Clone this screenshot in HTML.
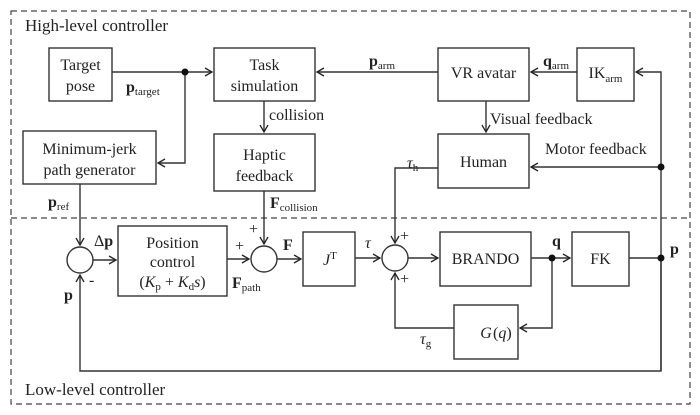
<!DOCTYPE html>
<html><head><meta charset="utf-8"><style>
html,body{margin:0;padding:0;background:#fff}
svg{display:block}
text{font-family:"Liberation Serif",serif;font-size:16px;fill:#222}
.b{font-weight:bold}
.s{font-size:11px}
</style></head><body>
<svg width="700" height="415" viewBox="0 0 700 415" xmlns="http://www.w3.org/2000/svg">
<defs>
<marker id="a" markerWidth="10" markerHeight="10" refX="8" refY="5" orient="auto" markerUnits="userSpaceOnUse">
<path d="M1,1 L8,5 L1,9" fill="none" stroke="#222" stroke-width="1.3"/>
</marker>
</defs>
<g fill="none" stroke="#444" stroke-width="1.2" stroke-dasharray="6,4">
<rect x="11" y="11" width="679" height="393"/>
<line x1="11" y1="218" x2="690" y2="218"/>
</g>
<g fill="#fff" stroke="#333" stroke-width="1.4">
<rect x="49" y="48" width="63" height="53"/>
<rect x="214" y="48" width="101" height="53"/>
<rect x="23" y="131" width="133" height="53"/>
<rect x="214" y="134" width="101" height="57"/>
<rect x="438" y="48" width="91" height="53"/>
<rect x="577" y="48" width="57" height="53"/>
<rect x="438" y="134" width="91" height="54"/>
<rect x="118" y="226" width="109" height="70"/>
<rect x="303" y="232" width="52" height="54"/>
<rect x="440" y="232" width="91" height="54"/>
<rect x="572" y="232" width="57" height="54"/>
<rect x="454" y="305" width="64" height="54"/>
<circle cx="80" cy="260" r="13"/>
<circle cx="264" cy="259" r="13"/>
<circle cx="395" cy="258" r="13"/>
</g>
<g fill="none" stroke="#333" stroke-width="1.4">
<path d="M112,72 H212" marker-end="url(#a)"/>
<path d="M185,72 V163 H158" marker-end="url(#a)"/>
<path d="M264,101 V132" marker-end="url(#a)"/>
<path d="M438,72 H317" marker-end="url(#a)"/>
<path d="M577,72 H531" marker-end="url(#a)"/>
<path d="M661,371 V72 H636" marker-end="url(#a)"/>
<path d="M486,101 V132" marker-end="url(#a)"/>
<path d="M661,167 H531" marker-end="url(#a)"/>
<path d="M438,168 H395 V243" marker-end="url(#a)"/>
<path d="M80,184 V245" marker-end="url(#a)"/>
<path d="M93,260 H116" marker-end="url(#a)"/>
<path d="M227,259 H249" marker-end="url(#a)"/>
<path d="M264,191 V244" marker-end="url(#a)"/>
<path d="M277,259 H301" marker-end="url(#a)"/>
<path d="M355,258 H380" marker-end="url(#a)"/>
<path d="M408,258 H438" marker-end="url(#a)"/>
<path d="M531,258 H570" marker-end="url(#a)"/>
<path d="M629,258 H661"/>
<path d="M552,258 V328 H520" marker-end="url(#a)"/>
<path d="M454,328 H395 V273" marker-end="url(#a)"/>
<path d="M661,258 V371 H80 V275" marker-end="url(#a)"/>
</g>
<g fill="#111">
<circle cx="185" cy="72" r="3.5"/>
<circle cx="661" cy="167" r="3.5"/>
<circle cx="552" cy="258" r="3.5"/>
<circle cx="661" cy="258" r="3.5"/>
</g>
<text x="25" y="31" style="font-size:17px">High-level controller</text>
<text x="25" y="395" style="font-size:17px">Low-level controller</text>
<text x="80.5" y="70" text-anchor="middle">Target</text>
<text x="80.5" y="91" text-anchor="middle">pose</text>
<text x="264.5" y="70" text-anchor="middle">Task</text>
<text x="264.5" y="91" text-anchor="middle">simulation</text>
<text x="89.5" y="154" text-anchor="middle">Minimum-jerk</text>
<text x="89.5" y="175" text-anchor="middle">path generator</text>
<text x="264.5" y="160" text-anchor="middle">Haptic</text>
<text x="264.5" y="181" text-anchor="middle">feedback</text>
<text x="483.5" y="78" text-anchor="middle">VR avatar</text>
<text x="605.5" y="78" text-anchor="middle">IK<tspan class="s" dy="4">arm</tspan></text>
<text x="483.5" y="167" text-anchor="middle">Human</text>
<text x="172.5" y="248" text-anchor="middle">Position</text>
<text x="172.5" y="267" text-anchor="middle">control</text>
<text x="172.5" y="287" text-anchor="middle">(<tspan font-style="italic">K</tspan><tspan class="s" dy="3">p</tspan><tspan dy="-3"> + </tspan><tspan font-style="italic">K</tspan><tspan class="s" dy="3">d</tspan><tspan dy="-3" font-style="italic">s</tspan>)</text>
<text x="323" y="265" font-style="italic">J<tspan class="s" font-style="normal" dy="-6">T</tspan></text>
<text x="485.5" y="264" text-anchor="middle">BRANDO</text>
<text x="600.5" y="264" text-anchor="middle">FK</text>
<text x="486" y="338" text-anchor="middle" font-style="italic">G</text><text x="493" y="338">(<tspan font-style="italic">q</tspan>)</text>
<text x="126" y="92"><tspan class="b">p</tspan><tspan class="s" dy="3">target</tspan></text>
<text x="269" y="120">collision</text>
<text x="369" y="66"><tspan class="b">p</tspan><tspan class="s" dy="3">arm</tspan></text>
<text x="543" y="66"><tspan class="b">q</tspan><tspan class="s" dy="3">arm</tspan></text>
<text x="490" y="124">Visual feedback</text>
<text x="545" y="154">Motor feedback</text>
<text x="407" y="168" font-style="italic">τ<tspan class="s" font-style="normal" dy="3">h</tspan></text>
<text x="48" y="207"><tspan class="b">p</tspan><tspan class="s" dy="3">ref</tspan></text>
<text x="270" y="208"><tspan class="b">F</tspan><tspan class="s" dy="3">collision</tspan></text>
<text x="94" y="246">Δ<tspan class="b">p</tspan></text>
<text x="64" y="300" class="b">p</text>
<text x="89" y="285">-</text>
<text x="235" y="251">+</text>
<text x="249" y="234">+</text>
<text x="232" y="288"><tspan class="b">F</tspan><tspan class="s" dy="3">path</tspan></text>
<text x="283" y="250" class="b">F</text>
<text x="365" y="248" font-style="italic">τ</text>
<text x="400" y="241">+</text>
<text x="400" y="284">+</text>
<text x="420" y="344" font-style="italic">τ<tspan class="s" font-style="normal" dy="3">g</tspan></text>
<text x="552" y="246" class="b">q</text>
<text x="670" y="254" class="b">p</text>
</svg>
</body></html>
